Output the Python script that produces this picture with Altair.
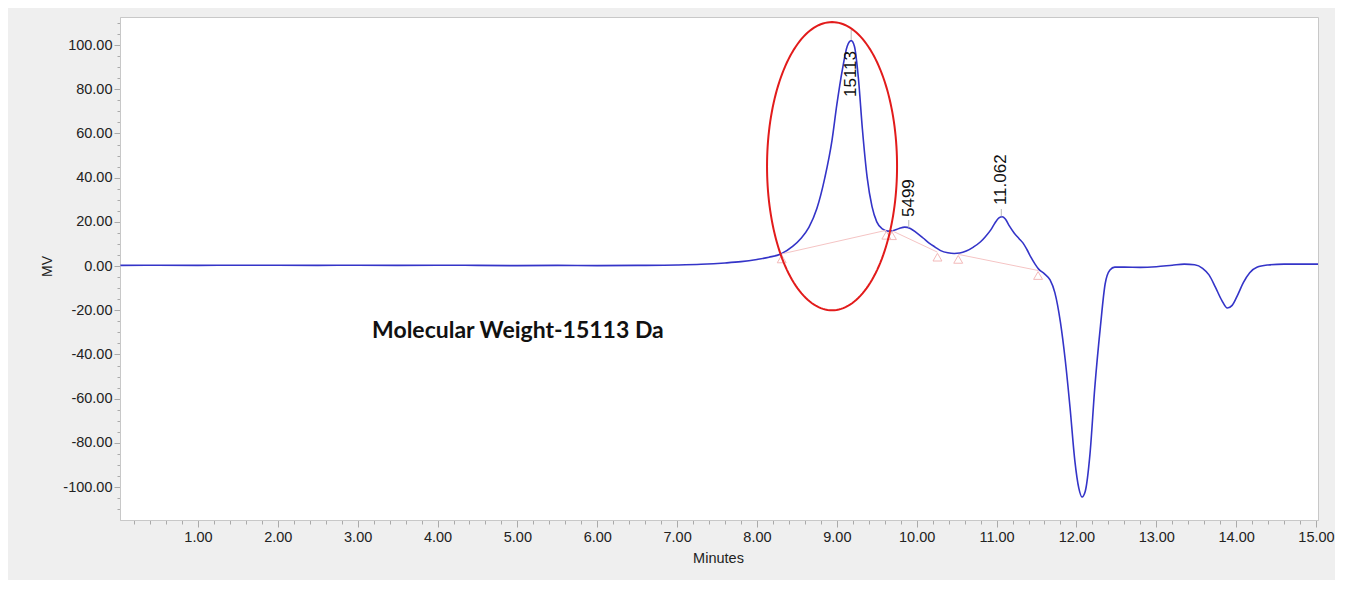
import altair as alt
import pandas as pd
import numpy as np

# ---- chromatogram trace (minutes, mV) ----
time_min = [0.03, 0.5, 1.0, 1.5, 2.0, 2.5, 3.0, 3.5, 4.0, 4.5, 5.0, 5.5, 6.0, 6.5, 7.0,
            7.3, 7.6, 7.8, 8.0, 8.15, 8.3, 8.45, 8.55, 8.65, 8.75, 8.85, 8.94, 9.0, 9.07,
            9.13, 9.18, 9.22, 9.27, 9.32, 9.38, 9.44, 9.5, 9.57, 9.64, 9.7, 9.78, 9.85,
            9.92, 10.0, 10.08, 10.16, 10.23, 10.3, 10.39, 10.47, 10.54, 10.62, 10.71,
            10.8, 10.86, 10.93, 10.98, 11.03, 11.07, 11.11, 11.16, 11.22, 11.28, 11.33,
            11.38, 11.43, 11.48, 11.53, 11.6, 11.67, 11.73, 11.8, 11.86, 11.92, 11.98,
            12.03, 12.07, 12.11, 12.17, 12.23, 12.3, 12.36, 12.42, 12.48, 12.6, 12.8,
            13.0, 13.2, 13.35, 13.48, 13.58, 13.66, 13.74, 13.82, 13.89, 13.95, 14.02,
            14.09, 14.17, 14.26, 14.4, 14.6, 15.025]
signal_mv = [0.3, 0.4, 0.3, 0.4, 0.4, 0.3, 0.4, 0.3, 0.4, 0.3, 0.2, 0.3, 0.2, 0.3, 0.5,
             0.8, 1.4, 2.0, 3.0, 4.0, 5.5, 9.0, 12.5, 17.5, 26.0, 40.0, 57.0, 73.0, 89.0,
             99.5, 102.0, 99.5, 85.0, 62.0, 40.0, 27.0, 20.0, 16.8, 15.8, 16.0, 17.0, 17.6,
             17.0, 15.0, 12.7, 10.3, 8.6, 7.0, 6.0, 5.7, 5.9, 6.8, 8.6,
             11.0, 13.3, 16.5, 19.5, 21.8, 22.3, 21.3, 18.2, 15.0, 12.5, 10.5,
             7.5, 4.0, 1.0, -1.5, -3.5, -6.3, -12.0, -25.5, -42.5, -64.0, -88.0,
             -100.5, -104.5, -102.0, -85.0, -55.0, -27.5, -8.0, -1.8, -0.5, -0.5, -0.6,
             -0.3, 0.4, 0.9, 0.6, -1.0, -4.0, -9.5, -15.5, -19.0, -17.8, -13.0,
             -7.5, -3.0, -0.5, 0.5, 0.9, 0.9]

# ---- integration baselines (pink) ----
base_seg = [1, 1, 2, 2, 3, 3]
base_t = [8.31, 9.62, 9.69, 10.26, 10.52, 11.52]
base_v = [5.5, 16.2, 16.0, 6.3, 5.3, -2.0]

# ---- peak markers / labels ----
peak_t = [9.18, 9.90, 11.06]
peak_v = [102.3, 17.4, 22.5]
peak_top = [106.8, 20.8, 25.8]
peak_label = ["15113", "5499", "11.062"]
label_v = [76.5, 22.2, 27.6]

# ---- red highlight ellipse (centre and radii in data units) ----
ell_cx, ell_cy, ell_rx, ell_ry = 8.94, 45.2, 0.814, 65.2

# ---- annotation ----
note_text = ["Molecular Weight-15113 Da"]
note_t = [3.18]
note_v = [-29.4]

x_domain = [0.024, 15.025]
y_domain = [-114.9, 112.7]
x_tick_values = [round(0.2 * i, 1) for i in range(1, 76)]
y_tick_values = list(range(-110, 111, 5))

curve = pd.DataFrame({"t": time_min, "v": signal_mv})
base = pd.DataFrame({"seg": base_seg, "t": base_t, "v": base_v})
peaks = pd.DataFrame({"t": peak_t, "v": peak_v, "v2": peak_top,
                      "label": peak_label, "lv": label_v})
theta = np.linspace(0, 2 * np.pi, 181)
ell = pd.DataFrame({"t": ell_cx + ell_rx * np.cos(theta),
                    "v": ell_cy + ell_ry * np.sin(theta),
                    "i": np.arange(len(theta))})
note = pd.DataFrame({"t": note_t, "v": note_v, "txt": note_text})

FONT = "Liberation Sans"
is_int_x = "abs(datum.value - round(datum.value)) < 0.01"

x_axis = alt.Axis(
    values=x_tick_values, tickCount=500,
    labelExpr=f"{is_int_x} ? format(datum.value, '.2f') : ''",
    tickSize={"condition": {"test": is_int_x, "value": 7}, "value": 4},
    labelOverlap=False, labelFlush=False, grid=False,
    labelFont=FONT, labelFontSize=14.5, labelColor="#222", labelPadding=3,
    domainColor="#c8c8c8", tickColor="#aaaaaa",
    title="Minutes", titleFont=FONT, titleFontSize=14.5, titleFontWeight="normal",
    titleColor="#222", titleX=598, titleY=38, titleAlign="center", titleBaseline="middle",
)
y_axis = alt.Axis(
    values=y_tick_values, tickCount=500,
    labelExpr="datum.value % 20 == 0 ? (datum.value < 0 ? '-' : '') + format(abs(datum.value), '.2f') : ''",
    tickSize={"condition": {"test": "datum.value % 20 == 0", "value": 6}, "value": 3},
    labelOverlap=False, labelFlush=False, grid=False,
    labelFont=FONT, labelFontSize=14.5, labelColor="#222", labelPadding=2,
    domainColor="#c8c8c8", tickColor="#aaaaaa",
    title="MV", titleFont=FONT, titleFontSize=14, titleFontWeight="normal",
    titleColor="#222", titleX=-73, titleY=249, titleAngle=270,
    titleAlign="center", titleBaseline="middle",
)

X = alt.X("t:Q", scale=alt.Scale(domain=x_domain, nice=False, zero=False), axis=x_axis)
Y = alt.Y("v:Q", scale=alt.Scale(domain=y_domain, nice=False, zero=False), axis=y_axis)

baselines = alt.Chart(base).mark_line(color="#f5c4c4", strokeWidth=1).encode(
    x="t:Q", y="v:Q", detail="seg:N")
triangles = alt.Chart(base).mark_point(
    shape="triangle-up", size=80, filled=False, color="#f3b9b9", strokeWidth=1,
    yOffset=5, opacity=1).encode(x="t:Q", y="v:Q")
trace = alt.Chart(curve).mark_line(
    color="#3434c8", strokeWidth=1.6, interpolate="monotone").encode(x=X, y=Y)
ticks = alt.Chart(peaks).mark_rule(color="#c4c4c4", strokeWidth=1.2).encode(
    x="t:Q", y="v:Q", y2="v2:Q")
labels = alt.Chart(peaks).mark_text(
    angle=270, align="left", baseline="middle", font=FONT, fontSize=17,
    color="#111").encode(x="t:Q", y="lv:Q", text="label:N")
ellipse = alt.Chart(ell).mark_line(color="#e21b1b", strokeWidth=2).encode(
    x="t:Q", y="v:Q", order="i:Q")
note_mark = alt.Chart(note).mark_text(
    align="left", baseline="middle", font="Lato", fontWeight="bold",
    fontSize=23, color="#111").encode(x="t:Q", y="v:Q", text="txt:N")

chart = alt.layer(
    trace, baselines, triangles, ticks, labels, ellipse, note_mark
).properties(
    width=1198, height=503,
    autosize=alt.AutoSizeParams(type="none"),
    padding={"left": 112, "top": 9, "right": 17, "bottom": 60},
    background="#efefef",
).configure_view(fill="white", stroke="#c8c8c8", strokeWidth=1)

chart.save("out.html", embed_options={"renderer": "svg", "actions": False})
